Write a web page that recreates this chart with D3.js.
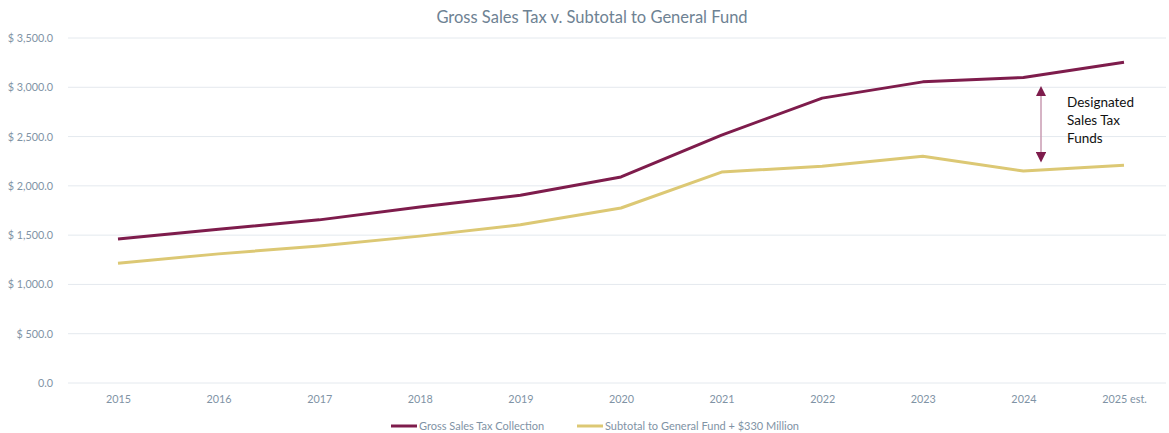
<!DOCTYPE html>
<html>
<head>
<meta charset="utf-8">
<script src="https://cdn.jsdelivr.net/npm/d3@7"></script>
<style>
body { margin: 0; background: #fff; }
text { font-family: Lato, "Open Sans", sans-serif; }
</style>
</head>
<body>
<div id="chart"></div>
<script>
var years = ["2015", "2016", "2017", "2018", "2019", "2020", "2021", "2022", "2023", "2024", "2025 est."];
var grossSales = [1460, 1560, 1655, 1785, 1905, 2090, 2515, 2890, 3055, 3100, 3255];
var generalFund = [1215, 1310, 1390, 1490, 1605, 1775, 2140, 2200, 2300, 2150, 2210];
var yTicks = [0, 500, 1000, 1500, 2000, 2500, 3000, 3500];
var seriesNames = ["Gross Sales Tax Collection", "Subtotal to General Fund + $330 Million"];
var colors = ["#7e1c4c", "#dcc874"];

var width = 1169, height = 433;
var margin = {top: 38, right: 0, bottom: 50, left: 68};

var svg = d3.select("#chart").append("svg")
    .attr("width", width)
    .attr("height", height);

var x = d3.scalePoint().domain(years).range([118, 1124]);
var y = d3.scaleLinear().domain([0, 3500]).range([383, 38]);

var fmt = function(v) {
    if (v == 0) return "0.0";
    return "$ " + d3.format(",.1f")(v);
};

// gridlines
svg.append("g").selectAll("line").data(yTicks).enter()
    .append("line")
    .attr("x1", margin.left)
    .attr("x2", 1166)
    .attr("y1", function(d) { return y(d); })
    .attr("y2", function(d) { return y(d); })
    .attr("stroke", "#e4e9ee")
    .attr("stroke-width", 1);

// y axis labels
var yAxis = svg.append("g")
    .attr("transform", "translate(" + (margin.left - 12) + ",0)")
    .call(d3.axisLeft(y).tickValues(yTicks).tickFormat(fmt).tickSize(0));
yAxis.select(".domain").remove();
yAxis.selectAll("text")
    .attr("fill", "#7f93a5")
    .style("font-size", "10.8px");

// x axis labels
var xAxis = svg.append("g")
    .attr("transform", "translate(0," + 392 + ")")
    .call(d3.axisBottom(x).tickSize(0));
xAxis.select(".domain").remove();
xAxis.selectAll("text")
    .attr("fill", "#7f93a5")
    .style("font-size", "10.8px");

// title
svg.append("text")
    .attr("x", 592)
    .attr("y", 23)
    .attr("text-anchor", "middle")
    .attr("fill", "#6e8293")
    .style("font-size", "16.5px")
    .text("Gross Sales Tax v. Subtotal to General Fund");

var line = d3.line()
    .x(function(d, i) { return x(years[i]); })
    .y(function(d) { return y(d); });

[grossSales, generalFund].forEach(function(s, i) {
    svg.append("path")
        .datum(s)
        .attr("d", line)
        .attr("fill", "none")
        .attr("stroke", colors[i])
        .attr("stroke-width", 3)
        .attr("stroke-linejoin", "round");
});

// annotation arrow
var defs = svg.append("defs");
defs.append("marker")
    .attr("id", "arr")
    .attr("viewBox", "0 0 10 10")
    .attr("refX", 5).attr("refY", 5)
    .attr("markerWidth", 7).attr("markerHeight", 7)
    .attr("orient", "auto-start-reverse")
    .append("path")
    .attr("d", "M0,0 L10,5 L0,10 z")
    .attr("fill", "#7e1c4c");

svg.append("line")
    .attr("x1", 1041).attr("x2", 1041)
    .attr("y1", y(2960)).attr("y2", y(2290))
    .attr("stroke", "#c99bb2")
    .attr("stroke-width", 1.5)
    .attr("marker-start", "url(#arr)")
    .attr("marker-end", "url(#arr)");

var note = svg.append("text")
    .attr("x", 1067)
    .attr("y", 107)
    .attr("fill", "#111")
    .style("font-size", "13.5px");
["Designated", "Sales Tax", "Funds"].forEach(function(t, i) {
    note.append("tspan").attr("x", 1067).attr("dy", i == 0 ? 0 : 18).text(t);
});

// legend
var legendX = [391, 577];
seriesNames.forEach(function(n, i) {
    var g = svg.append("g").attr("transform", "translate(" + legendX[i] + ",426)");
    g.append("line")
        .attr("x1", 0).attr("x2", 26)
        .attr("stroke", colors[i])
        .attr("stroke-width", 3);
    g.append("text")
        .attr("x", 28)
        .attr("y", 4)
        .attr("fill", "#7f93a5")
        .style("font-size", "11px")
        .text(n);
});
</script>
</body>
</html>
